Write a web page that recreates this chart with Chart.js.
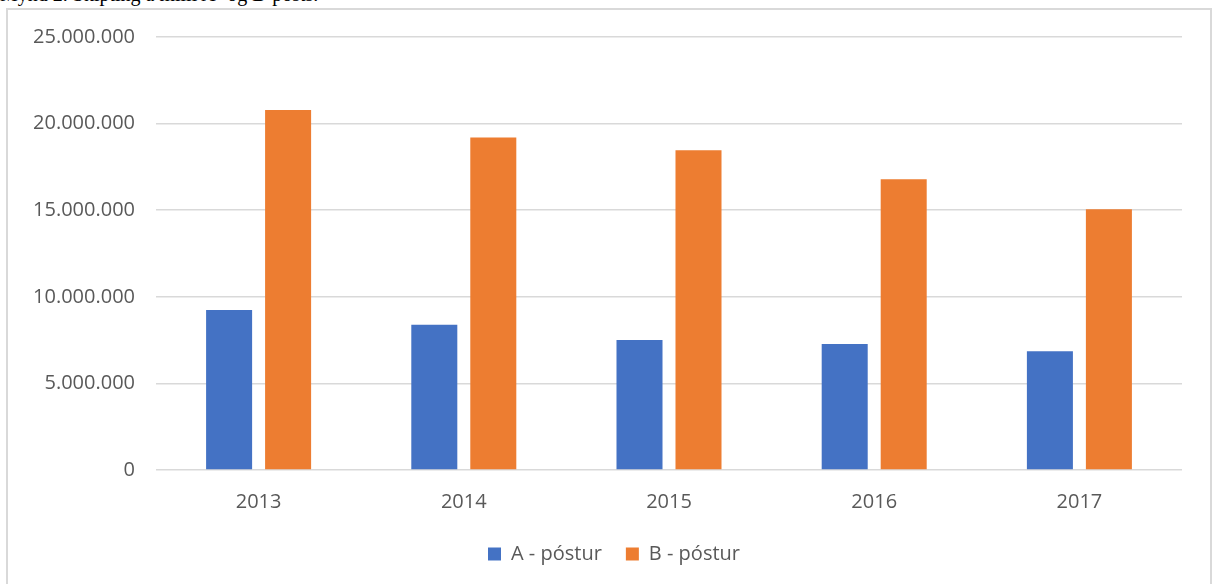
<!DOCTYPE html>
<html>
<head>
<meta charset="utf-8">
<script src="https://cdn.jsdelivr.net/npm/chart.js@4"></script>
<style>
  body { margin: 0; background: #fff; overflow: hidden; }
  #title {
    position: absolute; left: 0; top: -16px;
    font: 20px/20px "Liberation Serif", serif; color: #000; white-space: nowrap;
  }
  #frame {
    position: absolute; left: 6px; top: 8px; width: 1202px; height: 600px;
    border: 2px solid #d9d9d9; border-bottom: none;
  }
  #chart { position: absolute; left: 0; top: 0; }
</style>
</head>
<body>
<div id="title">Mynd 2. Skipting á milli A- og B-posts.</div>
<div id="frame"></div>
<canvas id="chart" width="1212" height="584"></canvas>
<script>
// Gögn lesin af myndinni
const years = ['2013', '2014', '2015', '2016', '2017'];
const aPostur = [9240000, 8390000, 7500000, 7270000, 6850000];
const bPostur = [20780000, 19200000, 18460000, 16780000, 15050000];
const yTicks = [0, 5000000, 10000000, 15000000, 20000000, 25000000];

const textColor = '#595959';
const fontFam = "'Open Sans', 'Noto Sans', sans-serif";

function dots(v) {
  return String(v).replace(/\B(?=(\d{3})+(?!\d))/g, '.');
}

new Chart(document.getElementById('chart'), {
  type: 'bar',
  data: {
    labels: years,
    datasets: [
      { label: 'A - póstur', data: aPostur, backgroundColor: '#4472C4' },
      { label: 'B - póstur', data: bPostur, backgroundColor: '#ED7D31' }
    ]
  },
  options: {
    responsive: false,
    animation: false,
    categoryPercentage: 0.575,
    barPercentage: 0.78,
    layout: { padding: { left: 16, right: 0, top: 37, bottom: 10 } },
    plugins: {
      tooltip: { enabled: false },
      legend: {
        position: 'bottom',
        labels: {
          boxWidth: 13,
          boxHeight: 13,
          padding: 24,
          color: textColor,
          font: { family: fontFam, size: 20 }
        }
      }
    },
    scales: {
      x: {
        grid: { display: false, drawTicks: false },
        border: { display: false },
        ticks: { color: textColor, padding: 20, font: { family: fontFam, size: 20 } },
        afterFit: s => { s.height = 50; }
      },
      y: {
        min: 0,
        max: 25000000,
        afterBuildTicks: s => { s.ticks = yTicks.map(v => ({ value: v })); },
        grid: { color: '#d9d9d9', lineWidth: 1.5, drawTicks: false },
        border: { display: false },
        ticks: {
          color: textColor,
          padding: 21,
          font: { family: fontFam, size: 20 },
          callback: v => dots(v)
        },
        afterFit: s => { s.width = 140; }
      },
      // tómur ás hægra megin, bara til að halda bili
      yRight: {
        position: 'right',
        grid: { display: false, drawTicks: false },
        border: { display: false },
        ticks: { display: false },
        afterFit: s => { s.width = 30; }
      }
    }
  }
});
</script>
</body>
</html>
